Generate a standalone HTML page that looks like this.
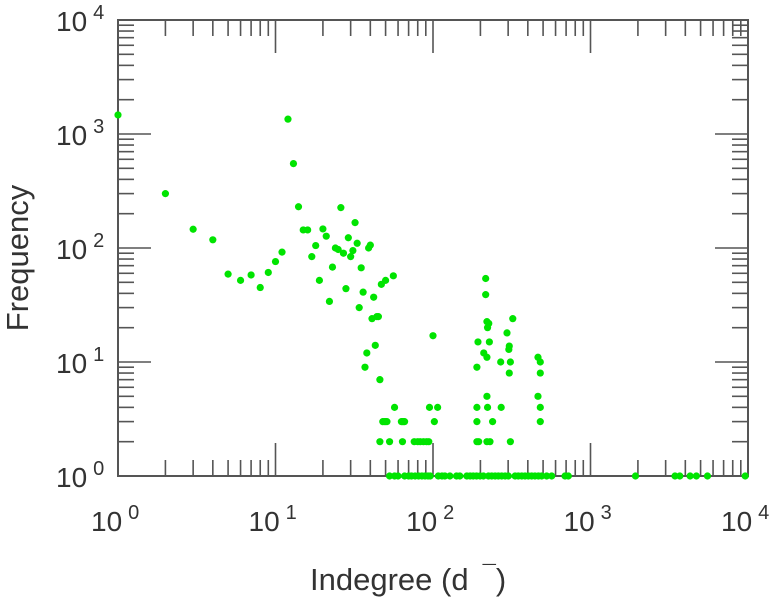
<!DOCTYPE html>
<html><head><meta charset="utf-8"><style>
html,body{margin:0;padding:0;background:#fff;}
svg{display:block;font-family:"Liberation Sans",sans-serif;}
</style></head><body>
<svg id="chart" width="779" height="600">
<rect x="118" y="20" width="630" height="456" fill="none" stroke="#555" stroke-width="2"/>
<g id="ticks"></g>
<g id="labels"></g>
<g id="points"></g>
<text x="28" y="258" transform="rotate(-90 28 258)" text-anchor="middle" font-size="31" fill="#333">Frequency</text>
<text x="310" y="590" font-size="31" fill="#333">Indegree (d<tspan dx="14" dy="-8" font-size="24">¯</tspan><tspan dy="8">)</tspan></text>
</svg>
<script>
const xDecades = [0, 1, 2, 3, 4];
const yDecades = [0, 1, 2, 3, 4];
const xs = [1,2,3,4,5,6,7,8,9,10,11,12,13,14,15,16,17,18,19,20,21,22,23,24,25,26,27,28,29,30,31,32,33,34,35,36,37,38,39,40,41,42,43,44,45,46,47,50,56,
 100,216,216,220,226,222,193,228,210,220,190,269,295,321,305,303,310,305,464,480,480,
 57,95,107,190,222,271,480,220,464,
 48,50,64,66,49,51,63,65,102,190,239,480,
 46,53,64,76,80,83,87,91,94,190,195,220,230,310,
 53,57,60,66,70,73,77,81,85,89,93,96,108,114,119,128,141,148,164,172,180,189,199,209,225,236,248,260,273,287,301,332,348,366,384,403,423,444,467,490,527,567,689,723,1930,3440,3690,4290,4700,5530,9600];
const ys = [1470,300,146,118,59,52,58,45,61,76,92,1350,550,230,144,144,84,105,52,147,127,34,68,100,97,226,90,44,123,84,95,167,110,30,67,41,9,12,100,106,24,37,14,25,25,7,48,52,57,
 17,54,39,22.6,21.8,20,15,15,12,11,9,10,18,24,13.8,12.9,10,8,11,10,8,
 4,4,4,4,4,4,4,5,5,
 3,3,3,3,3,3,3,3,3,3,3,3,
 2,2,2,2,2,2,2,2,2,2,2,2,2,2,
 1,1,1,1,1,1,1,1,1,1,1,1,1,1,1,1,1,1,1,1,1,1,1,1,1,1,1,1,1,1,1,1,1,1,1,1,1,1,1,1,1,1,1,1,1,1,1,1,1,1,1];
const X0=118,X1=748,Y0=476,Y1=20;
function xScale(v){return X0+(Math.log10(v)-0)/4*(X1-X0);}
function yScale(v){return Y0-(Math.log10(v)-0)/4*(Y0-Y1);}
const NS='http://www.w3.org/2000/svg';
const tg=document.getElementById('ticks'), lg=document.getElementById('labels'), pg=document.getElementById('points');
function line(x1,y1,x2,y2){const l=document.createElementNS(NS,'line');l.setAttribute('x1',x1);l.setAttribute('y1',y1);l.setAttribute('x2',x2);l.setAttribute('y2',y2);l.setAttribute('stroke','#555');l.setAttribute('stroke-width','1.6');


tg.appendChild(l);}
for(let d=0;d<4;d++){for(let m=1;m<=9;m++){const v=m*Math.pow(10,d);
 const x=xScale(v), y=yScale(v), len=(m===1)?33:16;
 if(m>1||d>0){line(x,Y0,x,Y0-len);line(x,Y1,x,Y1+len);line(X0,y,X0+len,y);line(X1,y,X1-len,y);}
}}
function label(x,y,e,name){const t=document.createElementNS(NS,'text');t.setAttribute('x',x);t.setAttribute('y',y);t.setAttribute('font-size','28');t.setAttribute('fill','#333');


t.textContent='10';const s=document.createElementNS(NS,'tspan');s.setAttribute('dx','6');s.setAttribute('dy','-12');s.setAttribute('font-size','20');s.textContent=e;t.appendChild(s);lg.appendChild(t);}
xDecades.forEach(d=>label(xScale(Math.pow(10,d))-27,531,String(d),'x-tick-label'));
yDecades.forEach(d=>label(56,yScale(Math.pow(10,d))+11,String(d),'y-tick-label'));
xs.forEach((v,i)=>{const c=document.createElementNS(NS,'circle');c.setAttribute('cx',xScale(v));c.setAttribute('cy',yScale(ys[i]));c.setAttribute('r','3.6');c.setAttribute('fill','#00e400');


pg.appendChild(c);});
</script>
</body></html>
